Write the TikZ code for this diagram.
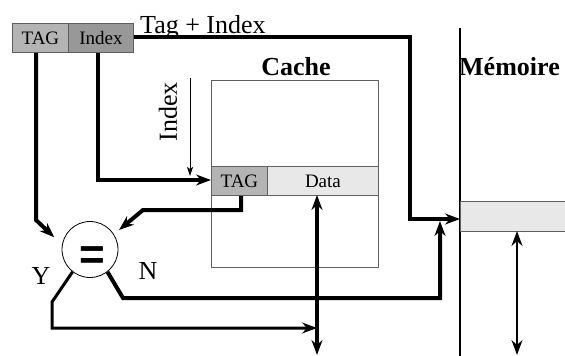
\documentclass[tikz,border=0pt]{standalone}
\usepackage{fontspec}
\setmainfont{Liberation Serif}
\newfontfamily\sansf{Liberation Sans}
\usetikzlibrary{arrows.meta}
\definecolor{gA}{HTML}{B4B4B4}
\definecolor{gB}{HTML}{989898}
\definecolor{gC}{HTML}{E8E8E8}
\definecolor{edge}{HTML}{606060}
\tikzset{
  cell/.style={draw=edge, line width=0.9pt, inner sep=0pt, anchor=north west,
    minimum height=29pt, font=\fontsize{19}{19}\selectfont},
  heavy/.style={line width=4pt},
  medium/.style={line width=3pt},
  tip/.style={-{Stealth[length=15pt,width=11pt,inset=5pt]}},
  dtip/.style={{Stealth[length=15pt,width=11pt,inset=5pt]}-{Stealth[length=15pt,width=11pt,inset=5pt]}},
  lbl/.style={font=\fontsize{26}{26}\selectfont, inner sep=0pt},
  blbl/.style={font=\fontsize{26}{26}\selectfont\bfseries, inner sep=0pt},
}
\begin{document}
\begin{tikzpicture}[x=1pt,y=-1pt]
\useasboundingbox (0,0) rectangle (565,356);
% address register
\node[cell, fill=gA, minimum width=56pt] (atag) at (12,23) {TAG\hspace{8pt}};
\node[cell, fill=gB, minimum width=65pt] (aidx) at (68,23) {Index};
\node[lbl, anchor=base west] (ti) at (140,33) {Tag + Index};
% cache
\node[draw=edge, line width=0.9pt, anchor=north west, minimum width=167pt, minimum height=187pt, inner sep=0pt] (cache) at (211,80) {};
\node[blbl, anchor=base] (cachelbl) at (296,75) {Cache};
\node[cell, fill=gA, minimum width=56pt] (ctag) at (211,166) {TAG\hspace{12pt}};
\node[cell, fill=gC, minimum width=111pt] (data) at (267,166) {Data};
% index arrow and label
\node[lbl, rotate=90] (idxlbl) at (168,112) {Index};
\coordinate (ia) at (190,78);
\coordinate (ib) at (190,176);
\draw[line width=0.9pt, -{Stealth[length=9pt,width=6pt,inset=2pt]}] (ia) -- (ib);
% memory
\coordinate (mtop) at (460,28);
\coordinate (mbot) at (460,356);
\draw[line width=1.6pt] (mtop) -- (mbot);
\node[draw=edge, line width=0.9pt, fill=gC, anchor=north west, minimum width=110pt, minimum height=30pt, inner sep=0pt] (mblock) at (460,201) {};
\node[blbl, anchor=base west] (memlbl) at (459,75) {Mémoire};
% comparator
\node[draw, circle, line width=0.8pt, minimum size=56pt, inner sep=0pt] (cmp) at (90,249.5) {};
\node[font=\sansf\fontsize{44}{44}\selectfont\bfseries, inner sep=0pt] (eq) at (92,258) {=};
\node[lbl] (ylbl) at (41,276) {Y};
\node[lbl] (nlbl) at (148,271) {N};
% connectors
\coordinate (m1) at (410,37);
\coordinate (m2) at (410,219);
\draw[heavy, tip] (aidx.east |- 0,37) -- (m1) -- (m2) -- (mblock.west |- m2);
\draw[heavy, tip] (aidx.south -| 98,0) -- (98,180) -- (ctag.west |- 0,180);
\draw[heavy, tip, shorten >=1pt] (atag.south -| 36,0) -- (36,220) -- (55,238);
\draw[heavy, tip] (ctag.south -| 241,0) -- (241,210) -- (143,210) -- (119,230);
\coordinate (dtop) at (317,195);
\coordinate (dbot) at (317,355);
\draw[heavy, dtip] (dtop) -- (dbot);
\coordinate (mdtop) at (517,231);
\coordinate (mdbot) at (517,355);
\draw[line width=2.2pt, dtip] (mdtop) -- (mdbot);
\draw[medium, tip] (cmp.232) -- (52,302) -- (52,328) -- (dtop |- 0,328);
\draw[heavy, tip] (cmp.308) -- (123,298) -- (440,298) -- (440,221);
\end{tikzpicture}
\end{document}
